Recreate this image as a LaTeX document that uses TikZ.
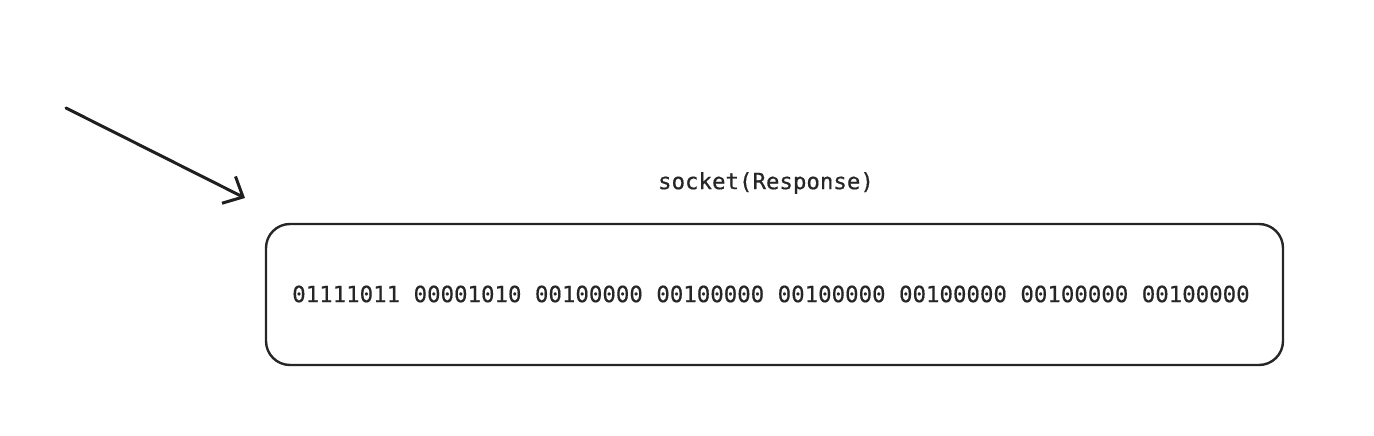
\documentclass[tikz,border=0pt]{standalone}
\usepackage{fontspec}
\setmonofont[FakeBold=0.5]{DejaVu Sans Mono}
\usetikzlibrary{arrows.meta}
\tikzset{
  boxstyle/.style={draw=black!85, line width=2.4pt, rounded corners=24pt},
  monotext/.style={font=\ttfamily\fontsize{22.4}{27}\selectfont, text=black!85, inner sep=0pt},
  arrowline/.style={draw=black!88, line width=3pt, line cap=round, -{Straight Barb[length=16pt,width=30pt,line width=3pt]}}
}
\begin{document}
\begin{tikzpicture}[x=1pt,y=-1pt]
\useasboundingbox (0,0) rectangle (1374,436);
\draw[boxstyle] (266,224) rectangle (1283,365);
\node[monotext] (data) at (771,294) {01111011 00001010 00100000 00100000 00100000 00100000 00100000 00100000};
\node[monotext] (label) at (766,183) {socket(Response)};
\coordinate (start) at (66,108);
\coordinate (tip) at (245,198);
\draw[arrowline] (start) -- (tip);
\end{tikzpicture}
\end{document}
